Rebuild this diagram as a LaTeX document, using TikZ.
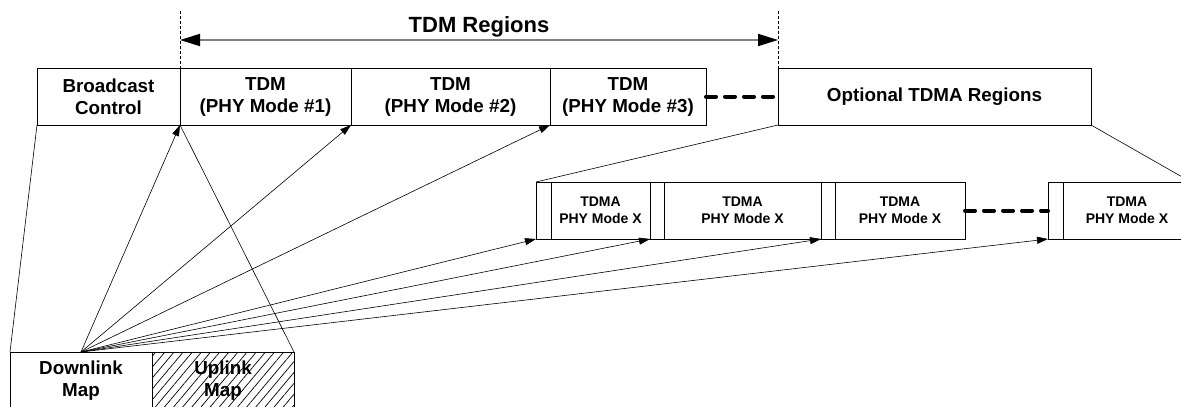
\documentclass[tikz,border=0pt]{standalone}
\usepackage{fontspec}
\setmainfont{Liberation Sans}
\usetikzlibrary{positioning,arrows.meta,patterns.meta}

\tikzset{
  region/.style={draw, line width=0.8pt, minimum height=57pt, inner sep=0pt,
    outer sep=0pt, anchor=north west, align=center,
    font=\fontsize{18.8}{22}\selectfont\bfseries},
  slot/.style={region, font=\fontsize{14}{17}\selectfont\bfseries},
  gapbox/.style={draw, line width=0.8pt, minimum height=57pt, inner sep=0pt,
    outer sep=0pt, anchor=north west},
  ptr/.style={-{Triangle[length=11pt,width=7pt]}, line width=0.6pt},
  zoomline/.style={line width=0.6pt},
  guide/.style={line width=0.5pt, densely dashed},
  span/.style={{Triangle[length=20pt,width=12pt,black]}-{Triangle[length=20pt,width=12pt,black]},
    draw=gray, line width=1.8pt},
  more/.style={line width=4pt, line cap=round, dash pattern=on 10pt off 9pt},
}

\begin{document}
\begin{tikzpicture}[x=1pt, y=-1pt]
  \useasboundingbox (0,0) rectangle (1181,407);

  % frame
  \node[region, minimum width=143pt] (bc) at (37,68) {Broadcast\\Control};
  \node[region, minimum width=171pt, right=0pt of bc] (tdm1) {TDM\\(PHY Mode \#1)};
  \node[region, minimum width=199pt, right=0pt of tdm1] (tdm2) {TDM\\(PHY Mode \#2)};
  \node[region, minimum width=156pt, right=0pt of tdm2] (tdm3) {TDM\\(PHY Mode \#3)};
  \node[region, minimum width=313pt] (opt) at (778,68) {Optional TDMA Regions};
  \draw[more] (tdm3.east) -- (opt.west);

  % TDM span
  \coordinate (ltop) at (tdm1.north west |- 0,11);
  \coordinate (rtop) at (opt.north west |- 0,11);
  \draw[guide] (ltop) -- ([yshift=-6pt]tdm1.north west);
  \draw[guide] (rtop) -- ([yshift=-6pt]opt.north west);
  \coordinate (la) at (tdm1.north west |- 0,40);
  \coordinate (ra) at (opt.north west |- 0,40);
  \draw[span] (la) -- (ra)
    node[midway, above=2pt, inner sep=0pt, text=black,
      font=\fontsize{22}{26}\selectfont\bfseries] (span) {TDM Regions};

  % TDMA slots
  \node[gapbox, minimum width=15pt] (g1) at (536,182) {};
  \node[slot, minimum width=99pt, right=0pt of g1] (s1) {TDMA\\PHY Mode X};
  \node[gapbox, minimum width=14pt, right=0pt of s1] (g2) {};
  \node[slot, minimum width=157pt, right=0pt of g2] (s2) {TDMA\\PHY Mode X};
  \node[gapbox, minimum width=14pt, right=0pt of s2] (g3) {};
  \node[slot, minimum width=130pt, right=0pt of g3] (s3) {TDMA\\PHY Mode X};
  \node[gapbox, minimum width=15pt] (g4) at (1048,182) {};
  \node[slot, minimum width=128pt, right=0pt of g4] (s4) {TDMA\\PHY Mode X};
  \draw[more] (s3.east) -- (g4.west);

  % map
  \node[region, minimum width=142pt] (dl) at (10,352) {Downlink\\Map};
  \node[region, minimum width=142pt, right=0pt of dl,
    pattern={Lines[angle=50,distance=7pt,line width=0.7pt]}] (ul) {Uplink\\Map};

  % zoom lines
  \draw[zoomline] (bc.south west) -- (dl.north west);
  \draw[zoomline] (tdm1.south west) -- (ul.north east);
  \draw[zoomline] (opt.south west) -- (g1.north west);
  \draw[zoomline] (opt.south east) -- (s4.north east);

  % pointers
  \foreach \t in {tdm1,tdm2,tdm3,g1,g2,g3,g4}
    \draw[ptr] (dl.north) -- (\t.south west);
\end{tikzpicture}
\end{document}
